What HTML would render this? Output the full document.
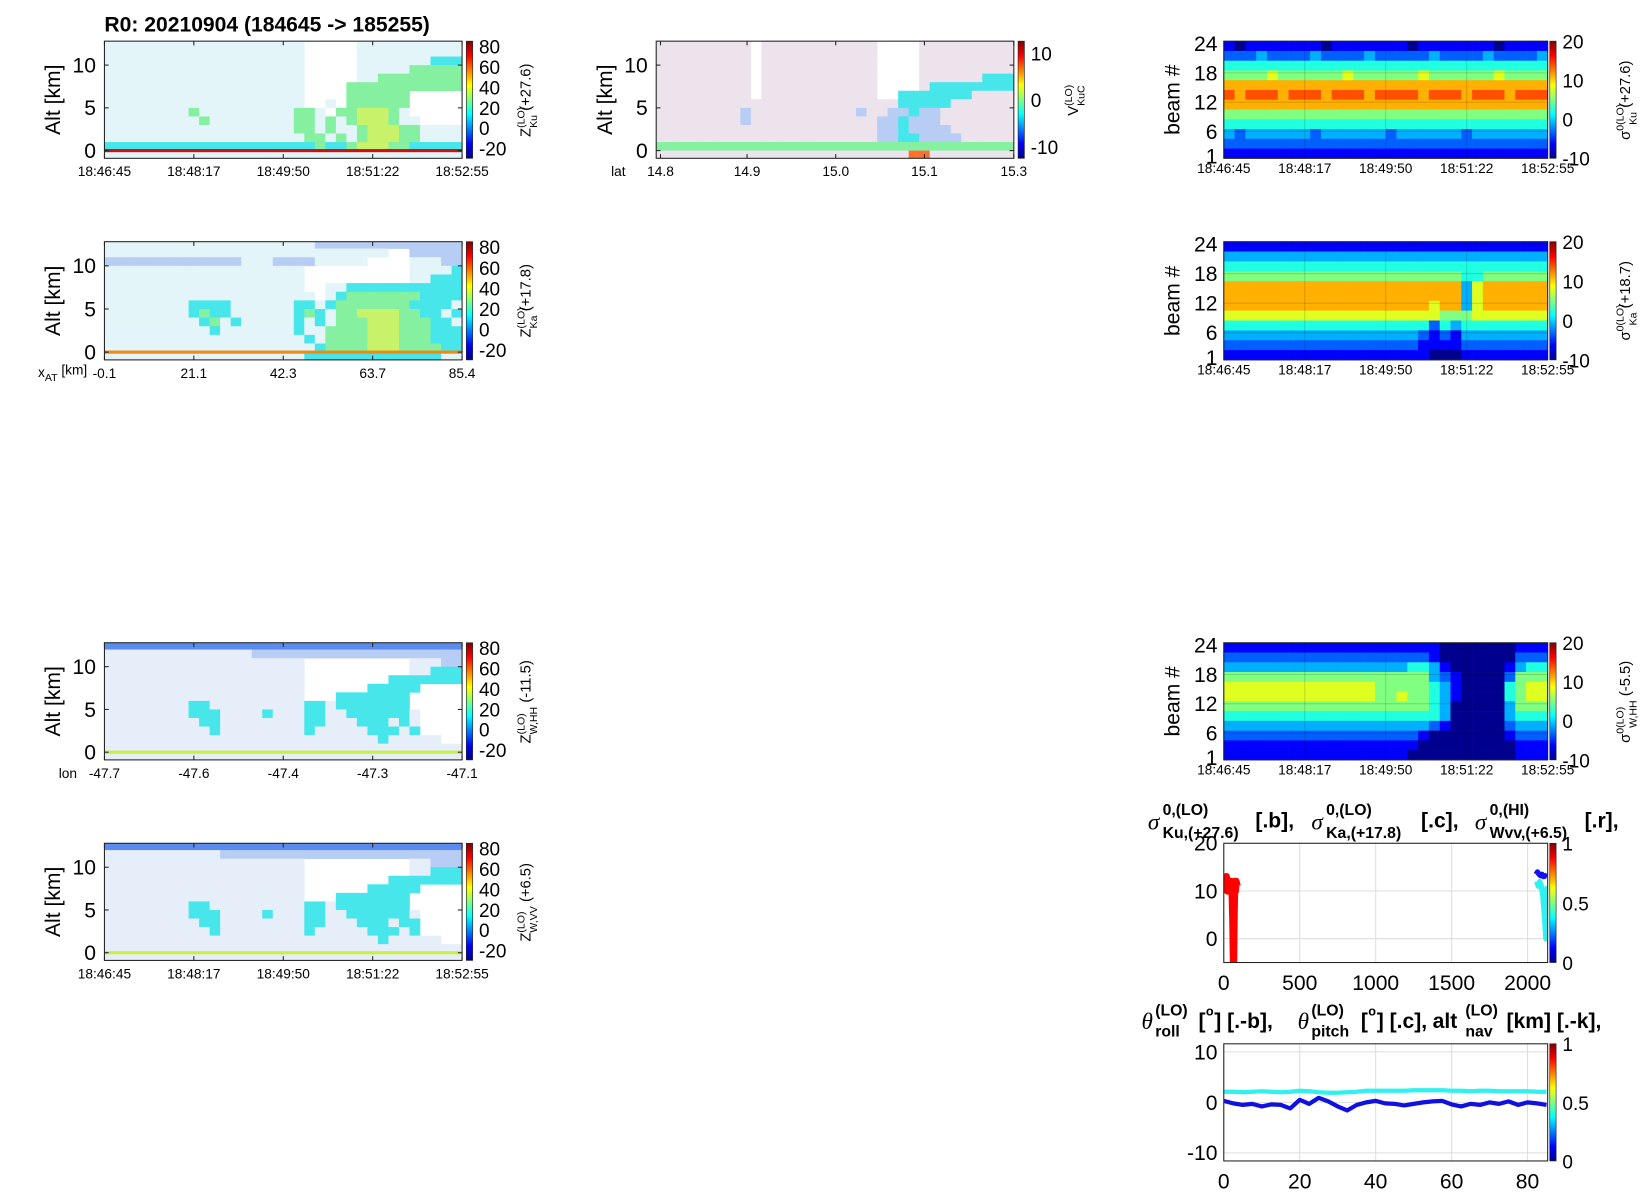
<!DOCTYPE html>
<html><head><meta charset="utf-8"><style>
html,body{margin:0;padding:0;background:#fff;}
svg{display:block;font-family:"Liberation Sans",sans-serif;}
</style></head><body>
<svg id="fig" xmlns="http://www.w3.org/2000/svg" width="1650" height="1200" viewBox="0 0 1564 1137" preserveAspectRatio="none">
<defs>
<linearGradient id="jet" x1="0" y1="1" x2="0" y2="0">
<stop offset="0" stop-color="#00008f"/><stop offset="0.125" stop-color="#0000ff"/><stop offset="0.375" stop-color="#00ffff"/><stop offset="0.625" stop-color="#ffff00"/><stop offset="0.875" stop-color="#ff0000"/><stop offset="1" stop-color="#800000"/>
</linearGradient>
</defs>
<text x="99" y="30" font-size="20" font-weight="bold">R0:  20210904 (184645 -&gt; 185255)</text>
</svg>
<script>
// ---------- data ----------
const timeTicks = ["18:46:45","18:48:17","18:49:50","18:51:22","18:52:55"];
const xatTicks = ["-0.1","21.1","42.3","63.7","85.4"];
const lonTicks = ["-47.7","-47.6","-47.4","-47.3","-47.1"];
const latTicks = ["14.8","14.9","15.0","15.1","15.3"];
const latTickFrac = [0.012,0.254,0.502,0.75,1];
const altTicks = [0,5,10];
const beamTicks = [24,18,12,6,1];
const zCbTicks = [80,60,40,20,0,-20];
const vCbTicks = [10,0,-10];
const sCbTicks = [20,10,0,-10];
const uCbTicks = [1,0.5,0];

const kuRows = [
"...................     ..........",
"...................     ..........",
"...................     .......ccc",
"...................     .....ggggg",
"...................     ..gggggggg",
"...................    ggggggggggg",
"...................    gggggg     ",
"...................  . gggggg     ",
"........g.........gg. ggyyyg.     ",
".........g........gg.g.gyyyg..    ",
"..................gg.g..gyyygg....",
"...................gg.g.gyyygg....",
"ccccccccccccccccccccgccgyyyggccccc",
".................................."];
const kaRows = [
"....................bbbbbbbbbbbbbb",
"...........................  bbbbb",
"bbbbbbbbbbbbb...bbbb.....    ...bb",
"...................          ....c",
"...................          ..ccc",
"...................  ..ccccccccccc",
".................... .cgggggggcccc",
"........cccc......cc.cgggggggcccc.",
"........cgcc......cgc.ggyyyyggcc.c",
".........cg.c.....c.c.gggyyygggcc.",
"..........c.......c..ggggyyygggccc",
"...................c.ggggyyygggccc",
"....................cggggyyyggggcc",
"...................ccccccccccccc.."];
const whhRows = [
"BBBBBBBBBBBBBBBBBBBBBBBBBBBBBBBBBB",
"..............bbbbbbbbbbbbbbbbbbbb",
"...................          ...bb",
"...................          ..ccc",
"...................        ccccccc",
"...................      ccccc    ",
"...................   ccccccc     ",
"........cc.........cc.ccccccc     ",
"........ccc....c...cc..cccccc.    ",
".........cc........cc...ccc.c.    ",
"..........c........c.....ccc.c    ",
"..........................c.....  ",
"..................................",
".................................."];
const wvvRows = [
"BBBBBBBBBBBBBBBBBBBBBBBBBBBBBBBBBB",
"...........bbbbbbbbbbbbbbbbbbbbbbb",
"...................          ..bbb",
"...................          ..ccc",
"...................        ccccccc",
"...................      ccccc    ",
"...................   ccccccc     ",
"........cc.........cc.ccccccc     ",
"........ccc....c...cc..cccccc.    ",
".........cc........cc...ccc.cc    ",
"..........c........c.....ccc.c    ",
"..........................c.....  ",
"..................................",
".................................."];
const dopRows = [
"nnnnnnnnn nnnnnnnnnnn    nnnnnnnnn",
"nnnnnnnnn nnnnnnnnnnn    nnnnnnnnn",
"nnnnnnnnn nnnnnnnnnnn    nnnnnnnnn",
"nnnnnnnnn nnnnnnnnnnn    nnnnnnnnn",
"nnnnnnnnn nnnnnnnnnnn    nnnnnnccc",
"nnnnnnnnn nnnnnnnnnnn    ncccccccc",
"nnnnnnnnn nnnnnnnnnnn  cccccccnnnn",
"nnnnnnnnnnnnnnnnnnnnnnncccccnnnnnn",
"nnnnnnnnbnnnnnnnnnnbnnbbcbbnnnnnnn",
"nnnnnnnnbnnnnnnnnnnnnbbcbbbnnnnnnn",
"nnnnnnnnnnnnnnnnnnnnnbbcbbbbnnnnnn",
"nnnnnnnnnnnnnnnnnnnnnbbccbbbbnnnnn",
"gggggggggggggggggggggggggggggggggg",
"nnnnnnnnnnnnnnnnnnnnnnnnrrnnnnnnnn"];
const beamKu = [
"101111111011111110111111101111",
"222322223222232222232222322223",
"444444444444444444444444444444",
"555565555556555555655555565555",
"777777777777777777777777777777",
"878887888788878888788878887888",
"777777777777777777777777777777",
"555555555555555555555555555555",
"444444444444444444444444444444",
"323333332333333233333323333333",
"222222222222222222222222222222",
"111111111111111111111111111111"];
const beamKa = [
"111111111111111111111111111111",
"333333333333333333333333333333",
"444444444444444444444444444444",
"555555555555555555555544555555",
"777777777777777777777736777777",
"777777777777777777777736777777",
"777777777777777777767736777777",
"666666666666666666665556666666",
"444444444444444444424344444444",
"333333333333333333212133333333",
"222222222222222222111122222222",
"111111111111111111100011111111"];
const beamW = [
"111111111111111111110000000111",
"222222222222222222210000000222",
"333333333333333334431000001344",
"555555555555555555532100002555",
"666666666666665555543100004566",
"666666666666665565543100004566",
"555555555555555555543000003555",
"444444444444444444443000003444",
"333333333333333333321000002333",
"222222222222222222100000001222",
"111111111111111111000000000111",
"111111111111111110000000000111"];

const sigKuX = [0,8,16,24,32,40,48,56,60,64,68,72,76,80,88];
const sigKuY = [12,11,13,10,12,11,12,9,4,-5,6,12,10,12,11];
const sigKaX = [2060,2070,2080,2090,2100,2110,2120,2128];
const sigKaY = [12,11,12,11,9,5,0,11];
const sigWX = [2055,2065,2075,2085,2095,2105,2115,2128];
const sigWY = [13.5,14,13.5,13.2,13.5,13,13.2,13];
const attX = [0,2.5,5,7.5,10,12.5,15,17.5,20,22.5,25,27.5,30,32.5,35,37.5,40,42.5,45,47.5,50,52.5,55,57.5,60,62.5,65,67.5,70,72.5,75,77.5,80,82.5,85];
const rollY = [0.3,-0.2,-0.5,-0.3,-0.8,-0.4,-0.5,-1.2,0.5,-0.3,0.9,0.2,-0.8,-1.6,-0.5,0,0.3,-0.2,-0.3,-0.6,-0.3,0,0.2,0.3,-0.4,-0.8,-0.3,-0.5,0,-0.3,0.2,-0.5,0,-0.2,-0.5];
const pitchY = [2.1,2.1,2.0,2.1,2.2,2.1,2.0,2.1,2.3,2.2,2.0,1.9,1.9,2.0,2.1,2.3,2.3,2.3,2.3,2.3,2.4,2.4,2.4,2.4,2.3,2.3,2.2,2.3,2.3,2.2,2.2,2.2,2.2,2.1,2.1];

// ---------- helpers ----------
const NS = "http://www.w3.org/2000/svg";
const svg = document.getElementById("fig");
function mk(tag, attrs, parent) {
  const e = document.createElementNS(NS, tag);
  for (const k in attrs) e.setAttribute(k, attrs[k]);
  (parent || svg).appendChild(e);
  return e;
}
function txt(x, y, s, size, anchor, parent, extra) {
  const t = mk("text", Object.assign({x: x, y: y, "font-size": size, "text-anchor": anchor || "start"}, extra || {}), parent);
  t.textContent = s;
  return t;
}
const curtainPal = {".": "#e4f5f9", "c": "#46e6ea", "g": "#84f0a0", "y": "#c8f26a", "b": "#b8cdf4", "B": "#5a8cf0", "n": "#ece3ec", "r": "#ff7030"};
const jetPal = ["#00008f","#0000ff","#0060ff","#00b0ff","#20ffdf","#80ff80","#dfff20","#ffb000","#ff5000","#c00000"];

function colorbar(x, y, h, ticks, vmin, vmax, name) {
  const g = mk("g", {});
  
  
  mk("rect", {x: x, y: y, width: 6, height: h, fill: "url(#jet)", stroke: "#222", "stroke-width": 0.6}, g);
  ticks.forEach(v => {
    const ty = y + (vmax - v) / (vmax - vmin) * h;
    const t = txt(x + 12, ty + 7, String(v), 18, "start", g);
    
    
  });
  return g;
}
function rotLabel(x, y, main, sup, sub, rest, name) {
  const t = mk("text", {transform: "translate(" + x + "," + y + ") rotate(-90)", "font-size": 14, "text-anchor": "middle"});
  
  
  const a = mk("tspan", {}, t); a.textContent = main;
  const b = mk("tspan", {dy: -6, "font-size": 10}, t); b.textContent = sup;
  const c = mk("tspan", {dx: -20, dy: 12, "font-size": 10}, t); c.textContent = sub;
  const d = mk("tspan", {dy: -6, dx: 4}, t); d.textContent = rest;
}

function curtain(cfg) {
  const g = mk("g", {});
  
  
  const altTop = 12.8, altBot = -0.9;
  const ay = a => cfg.y0 + (altTop - a) / (altTop - altBot) * cfg.h;
  const nc = cfg.rows[0].length, cw = cfg.w / nc;
  const clip = mk("clipPath", {id: cfg.name + "-clip"}, g);
  mk("rect", {x: cfg.x0, y: cfg.y0, width: cfg.w, height: cfg.h}, clip);
  const cells = mk("g", {"clip-path": "url(#" + cfg.name + "-clip)"}, g);
  cfg.rows.forEach((row, r) => {
    for (let c = 0; c < nc; c++) {
      const ch = row[c];
      if (ch === " " || ch === undefined) continue;
      const top = ay(13 - r), bot = ay(12 - r);
      const col = (ch === "." && cfg.speck) ? cfg.speck : curtainPal[ch];
      if (!col) continue;
      const cell = mk("rect", {x: cfg.x0 + c * cw, y: top, width: cw + 0.3, height: bot - top + 0.3, fill: col}, cells);
      
      
    }
  });
  if (cfg.surf) {
    const s = mk("rect", {x: cfg.x0, y: ay(0) - 1.5, width: cfg.w, height: 3, fill: cfg.surf}, cells);
    
    
  }
  mk("rect", {x: cfg.x0, y: cfg.y0, width: cfg.w, height: cfg.h, fill: "none", stroke: "#222", "stroke-width": 1}, g);
  altTicks.forEach(v => {
    const y = ay(v);
    mk("line", {x1: cfg.x0, x2: cfg.x0 + 4, y1: y, y2: y, stroke: "#222"}, g);
    mk("line", {x1: cfg.x0 + cfg.w, x2: cfg.x0 + cfg.w - 4, y1: y, y2: y, stroke: "#222"}, g);
    const t = txt(cfg.x0 - 8, y + 7, String(v), 20, "end", g);
    
    
  });
  const yl = mk("text", {transform: "translate(" + (cfg.x0 - 42) + "," + (cfg.y0 + cfg.h / 2) + ") rotate(-90)", "font-size": 20, "text-anchor": "middle"}, g);
  yl.textContent = "Alt [km]";
  
  
  const xpos = cfg.xpos || cfg.xt.map((s, i) => i / (cfg.xt.length - 1));
  cfg.xt.forEach((s, i) => {
    const x = cfg.x0 + xpos[i] * cfg.w;
    mk("line", {x1: x, x2: x, y1: cfg.y0, y2: cfg.y0 + 4, stroke: "#222"}, g);
    mk("line", {x1: x, x2: x, y1: cfg.y0 + cfg.h, y2: cfg.y0 + cfg.h - 4, stroke: "#222"}, g);
    const t = txt(x, cfg.y0 + cfg.h + 17, s, 13, "middle", g);
    
    
  });
  return g;
}

function beamPanel(cfg) {
  const g = mk("g", {});
  
  
  const by = b => cfg.y0 + (24.5 - b) / 24 * cfg.h;
  const nc = cfg.rows[0].length, cw = cfg.w / nc, rh = cfg.h / cfg.rows.length;
  cfg.rows.forEach((row, r) => {
    for (let c = 0; c < nc; c++) {
      const cell = mk("rect", {x: cfg.x0 + c * cw, y: cfg.y0 + r * rh, width: cw + 0.3, height: rh + 0.3, fill: jetPal[+row[c]]}, g);
      
      
    }
  });
  mk("rect", {x: cfg.x0, y: cfg.y0, width: cfg.w, height: cfg.h, fill: "none", stroke: "#222"}, g);
  beamTicks.forEach(v => {
    const y = by(v);
    mk("line", {x1: cfg.x0, x2: cfg.x0 + cfg.w, y1: y, y2: y, stroke: "#000", "stroke-opacity": 0.15}, g);
    const t = txt(cfg.x0 - 6, y + 7, String(v), 20, "end", g);
    
    
  });
  const yl = mk("text", {transform: "translate(" + (cfg.x0 - 42) + "," + (cfg.y0 + cfg.h / 2) + ") rotate(-90)", "font-size": 20, "text-anchor": "middle"}, g);
  yl.textContent = "beam #";
  
  
  timeTicks.forEach((s, i) => {
    const x = cfg.x0 + i * cfg.w / (timeTicks.length - 1);
    mk("line", {x1: x, x2: x, y1: cfg.y0, y2: cfg.y0 + cfg.h, stroke: "#000", "stroke-opacity": 0.15}, g);
    const t = txt(x, cfg.y0 + cfg.h + 14, s, 13, "middle", g);
    
    
  });
}

// ---------- curtain panels ----------
curtain({name: "ku-reflectivity-panel", x0: 99, y0: 39, w: 339, h: 111, rows: kuRows, xt: timeTicks, surf: "#d01010"});
colorbar(442, 39, 111, zCbTicks, -30, 85, "ku-colorbar");
rotLabel(503, 95, "Z", "(LO)", "Ku", "(+27.6)", "ku-colorbar-label");

curtain({name: "ka-reflectivity-panel", x0: 99, y0: 229, w: 339, h: 112, rows: kaRows, xt: xatTicks, surf: "#f08a10"});
{ const t = mk("text", {x: 36, y: 357, "font-size": 13});
  
  
  const a = mk("tspan", {}, t); a.textContent = "x";
  const b = mk("tspan", {dy: 4, "font-size": 10}, t); b.textContent = "AT";
  const c = mk("tspan", {dy: -6}, t); c.textContent = " [km]"; }
colorbar(442, 229, 112, zCbTicks, -30, 85, "ka-colorbar");
rotLabel(503, 285, "Z", "(LO)", "Ka", "(+17.8)", "ka-colorbar-label");

curtain({name: "w-hh-reflectivity-panel", x0: 99, y0: 609, w: 339, h: 111, rows: whhRows, xt: lonTicks, surf: "#c8f040", speck: "#e6eefa"});
{ const t = txt(73, 737, "lon", 13, "end");
  
   }
colorbar(442, 609, 111, zCbTicks, -30, 85, "w-hh-colorbar");
rotLabel(503, 665, "Z", "(LO)", "W,HH", "(-11.5)", "w-hh-colorbar-label");

curtain({name: "w-vv-reflectivity-panel", x0: 99, y0: 799, w: 339, h: 111, rows: wvvRows, xt: timeTicks, surf: "#c8f040", speck: "#e6eefa"});
colorbar(442, 799, 111, zCbTicks, -30, 85, "w-vv-colorbar");
rotLabel(503, 855, "Z", "(LO)", "W,VV", "(+6.5)", "w-vv-colorbar-label");

curtain({name: "doppler-velocity-panel", x0: 622, y0: 39, w: 339, h: 111, rows: dopRows, xt: latTicks, xpos: latTickFrac, surf: null});
{ const t = txt(593, 167, "lat", 13, "end");
  
   }
colorbar(965, 39, 111, vCbTicks, -12.5, 12.5, "doppler-colorbar");
rotLabel(1022, 95, "V", "(LO)", "KuC", "", "doppler-colorbar-label");

// ---------- beam panels ----------
beamPanel({name: "ku-sigma0-beam-panel", x0: 1160, y0: 39, w: 307, h: 111, rows: beamKu});
colorbar(1469, 39, 111, sCbTicks, -10, 20, "ku-beam-colorbar");
rotLabel(1545, 95, "σ", "0(LO)", "Ku", "(+27.6)", "ku-beam-colorbar-label");
beamPanel({name: "ka-sigma0-beam-panel", x0: 1160, y0: 229, w: 307, h: 112, rows: beamKa});
colorbar(1469, 229, 112, sCbTicks, -10, 20, "ka-beam-colorbar");
rotLabel(1545, 285, "σ", "0(LO)", "Ka", "(+18.7)", "ka-beam-colorbar-label");
beamPanel({name: "w-hh-sigma0-beam-panel", x0: 1160, y0: 609, w: 307, h: 111, rows: beamW});
colorbar(1469, 609, 111, sCbTicks, -10, 20, "w-beam-colorbar");
rotLabel(1545, 665, "σ", "0(LO)", "W,HH", "(-5.5)", "w-beam-colorbar-label");

// ---------- line plots ----------
function linePlot(cfg) {
  const g = mk("g", {});
  
  
  const sx = v => cfg.x0 + (v - cfg.xmin) / (cfg.xmax - cfg.xmin) * cfg.w;
  const sy = v => cfg.y0 + (cfg.ymax - v) / (cfg.ymax - cfg.ymin) * cfg.h;
  const clip = mk("clipPath", {id: cfg.name + "-clip"}, g);
  mk("rect", {x: cfg.x0, y: cfg.y0, width: cfg.w, height: cfg.h}, clip);
  cfg.xt.forEach(v => {
    mk("line", {x1: sx(v), x2: sx(v), y1: cfg.y0, y2: cfg.y0 + cfg.h, stroke: "#ddd"}, g);
    const t = txt(sx(v), cfg.y0 + cfg.h + 26, String(v), 20, "middle", g);
    
    
  });
  cfg.yt.forEach(v => {
    mk("line", {x1: cfg.x0, x2: cfg.x0 + cfg.w, y1: sy(v), y2: sy(v), stroke: "#ddd"}, g);
    const t = txt(cfg.x0 - 6, sy(v) + 7, String(v), 20, "end", g);
    
    
  });
  const lines = mk("g", {"clip-path": "url(#" + cfg.name + "-clip)"}, g);
  cfg.series.forEach(s => {
    const pts = s.x.map((v, i) => sx(v) + "," + sy(s.y[i])).join(" ");
    const p = mk("polyline", {points: pts, fill: "none", stroke: s.color, "stroke-width": s.w, "stroke-linejoin": "round"}, lines);
    
    
  });
  mk("rect", {x: cfg.x0, y: cfg.y0, width: cfg.w, height: cfg.h, fill: "none", stroke: "#222"}, g);
}
linePlot({name: "sigma0-line-plot", x0: 1160, y0: 799, w: 307, h: 113, xmin: 0, xmax: 2132, ymin: -5, ymax: 20,
  xt: [0, 500, 1000, 1500, 2000], yt: [0, 10, 20],
  series: [
    {name: "sigma0-w-line", x: sigWX, y: sigWY, color: "#1010f0", w: 5},
    {name: "sigma0-ka-line", x: sigKaX, y: sigKaY, color: "#30f0f0", w: 5},
    {name: "sigma0-ku-line", x: sigKuX, y: sigKuY, color: "#ff0000", w: 7}
  ]});
colorbar(1469, 799, 113, uCbTicks, 0, 1, "sigma0-colorbar");
linePlot({name: "attitude-line-plot", x0: 1160, y0: 989, w: 307, h: 111, xmin: 0, xmax: 85.3, ymin: -11.6, ymax: 11.6,
  xt: [0, 20, 40, 60, 80], yt: [-10, 0, 10],
  series: [
    {name: "pitch-line", x: attX, y: pitchY, color: "#30f0f0", w: 4},
    {name: "roll-line", x: attX, y: rollY, color: "#1010e0", w: 4}
  ]});
colorbar(1469, 989, 111, uCbTicks, 0, 1, "attitude-colorbar");

// ---------- titles ----------
function piece(x, y, s, size, opt) {
  const t = mk("text", Object.assign({x: x, y: y, "font-size": size, "font-weight": "bold"}, opt || {}));
  t.textContent = s;
  
  
  return t;
}
const it = {"font-weight": "normal", "font-style": "italic", "font-family": "Liberation Serif"};
piece(1088, 786, "σ", 22, it);
piece(1102, 772, "0,(LO)", 15); piece(1102, 794, "Ku,(+27.6)", 15); piece(1190, 784, "[.b],", 20);
piece(1243, 786, "σ", 22, it);
piece(1257, 772, "0,(LO)", 15); piece(1257, 794, "Ka,(+17.8)", 15); piece(1347, 784, "[.c],", 20);
piece(1398, 786, "σ", 22, it);
piece(1412, 772, "0,(HI)", 15); piece(1412, 794, "Wvv,(+6.5)", 15); piece(1502, 784, "[.r],", 20);

piece(1082, 975, "θ", 22, it);
piece(1095, 962, "(LO)", 15); piece(1095, 982, "roll", 15);
piece(1136, 974, "[", 20); piece(1143, 962, "o", 12); piece(1151, 974, "] [.-b],", 20);
piece(1230, 975, "θ", 22, it);
piece(1243, 962, "(LO)", 15); piece(1243, 982, "pitch", 15);
piece(1290, 974, "[", 20); piece(1297, 962, "o", 12); piece(1305, 974, "] [.c],", 20);
piece(1358, 974, "alt", 20); piece(1389, 962, "(LO)", 15); piece(1389, 982, "nav", 15);
piece(1428, 974, "[km] [.-k],", 20);
</script>
</body></html>
